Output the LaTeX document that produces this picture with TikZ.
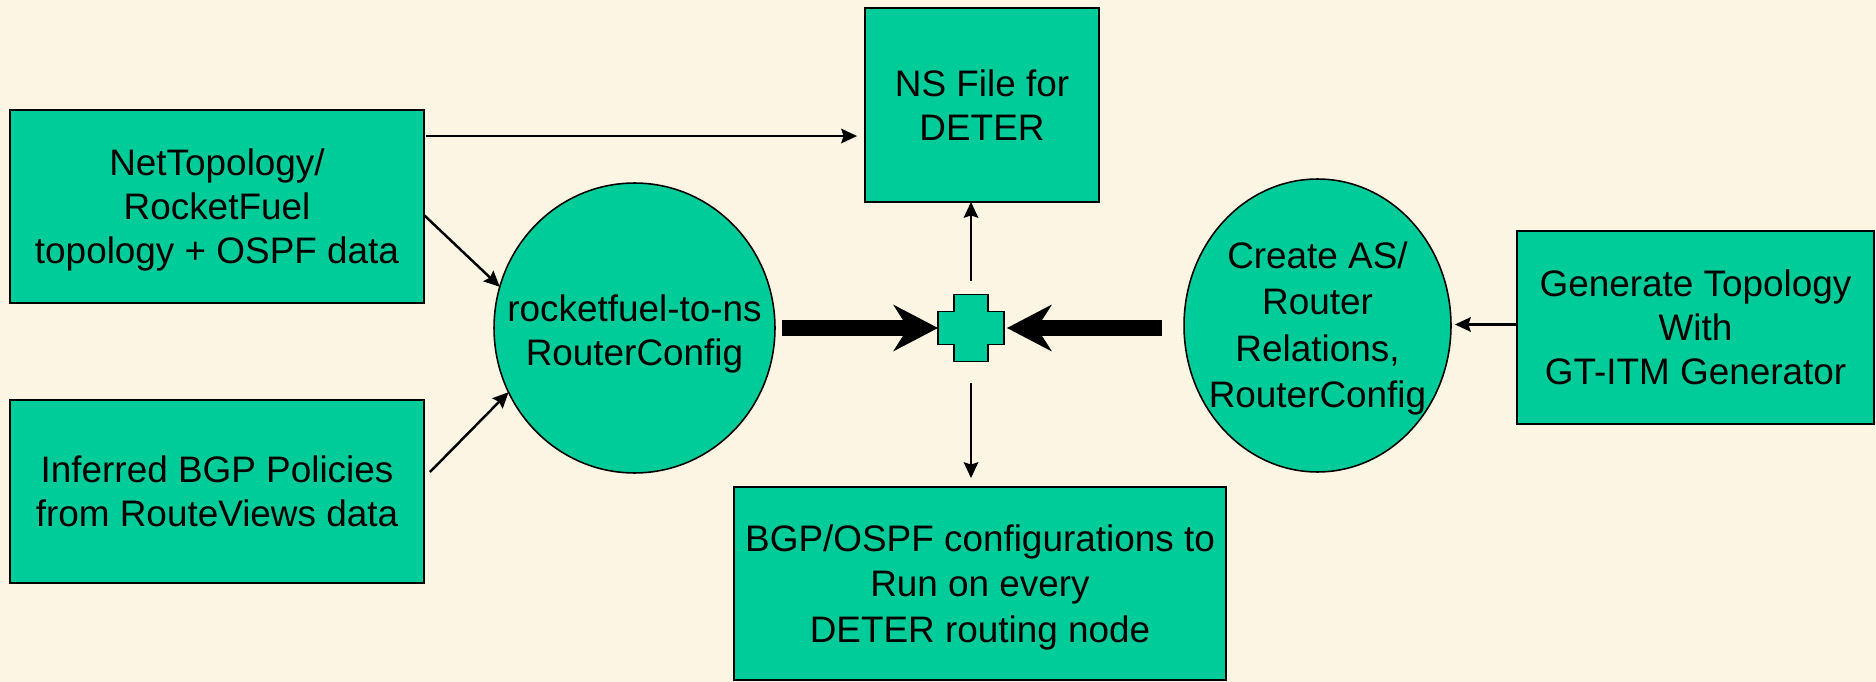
\documentclass[tikz,border=0pt]{standalone}
\usepackage{fontspec}
\setmainfont{Liberation Sans}
\usepackage{xcolor}
\usepackage{tikz}
\usetikzlibrary{arrows.meta, positioning, shapes, calc}

\definecolor{slidebg}{HTML}{FDF5E4}
\definecolor{boxgreen}{HTML}{00CC99}

\begin{document}
\begin{tikzpicture}[x=0.02cm, y=-0.02cm,
  every node/.style={font=\fontsize{21}{25}\selectfont, align=center, text depth=-0.045cm},
  box/.style={draw=black, line width=1.1pt, fill=boxgreen, inner sep=0pt, outer sep=0pt},
  oval/.style={ellipse, draw=black, line width=0.9pt, fill=boxgreen, inner sep=0pt, outer sep=0pt},
  thinarrow/.style={line width=1.4pt, -{Stealth[length=0.32cm, width=0.3cm, inset=0.05cm, line width=0pt]}},
  fatarrow/.style={line width=0.31cm, -{Stealth[length=0.9cm, width=0.94cm, inset=0.3cm, line width=0pt]}}]
% Background
\fill[slidebg] (0,0) rectangle (1876,682);
\useasboundingbox (0,0) rectangle (1876,682);

% Input data
\node[box, minimum width=8.28cm, minimum height=3.86cm] (netbox) at (217,206.5) {NetTopology/\\RocketFuel\\topology + OSPF data};
\node[box, minimum width=8.28cm, minimum height=3.66cm] (infbox) at (217,491.5) {Inferred BGP Policies\\from RouteViews data};

% Converter on the left
\node[oval, minimum width=5.62cm, minimum height=5.8cm] (rfns) at (634.5,328) {};
\node (rfnstext) at ($(rfns)+(0,2)$) {rocketfuel-to-ns\\RouterConfig};

% Converter on the right
\node[oval, minimum width=5.34cm, minimum height=5.86cm] (asbox) at (1317.5,325.5) {};
\node[font=\fontsize{21}{26.4}\selectfont] (astext) at ($(asbox)+(0,-1)$) {Create AS/\\Router\\Relations,\\RouterConfig};
\node[box, minimum width=7.14cm, minimum height=3.86cm] (genbox) at (1695.5,327.5) {Generate Topology\\With\\GT-ITM Generator};

% Outputs
\node[box, minimum width=4.68cm, minimum height=3.88cm] (nsbox) at (982,105) {NS File for\\DETER};
\node[box, minimum width=9.84cm, minimum height=3.86cm, font=\fontsize{21}{25.8}\selectfont] (outbox) at (980,583.5) {BGP/OSPF configurations to\\Run on every\\DETER routing node};

% Merge point
\node[minimum width=1.32cm, minimum height=1.34cm, inner sep=0pt, outer sep=0pt] (plus) at (971,328) {};
\draw[box] (plus.north) ++(-17,0) -- ++(34,0) -- ++(0,17) -- ++(16,0) -- ++(0,33) -- ++(-16,0)
  -- ++(0,17) -- ++(-34,0) -- ++(0,-17) -- ++(-16,0) -- ++(0,-33) -- ++(16,0) -- cycle;

% Thin arrows
\coordinate (topstart) at ($(netbox.north east)+(2,26)$);
\draw[thinarrow, shorten >=0.16cm] (topstart) -- (topstart -| nsbox.west);
\coordinate (netout) at ($(netbox.north east)+(0,105)$);
\draw[thinarrow] (netout) -- (rfns.163);
\coordinate (infout) at ($(infbox.north east)+(6,72)$);
\draw[thinarrow] (infout) -- (rfns.207);
\coordinate (genout) at ($(genbox.west)+(0,-3)$);
\draw[thinarrow, shorten >=0.08cm] (genout) -- (genout -| asbox.east);
\draw[thinarrow, shorten <=0.28cm] (plus.north) -- (plus.north |- nsbox.south);
\draw[thinarrow, shorten <=0.43cm, shorten >=0.18cm] (plus.south) -- (plus.south |- outbox.north);

% Thick arrows into the merge point
\draw[fatarrow, shorten <=0.14cm] (rfns.east) -- (plus.west);
\draw[fatarrow, shorten <=0.44cm, shorten >=0.06cm] (asbox.west |- plus.east) -- (plus.east);
\end{tikzpicture}
\end{document}
